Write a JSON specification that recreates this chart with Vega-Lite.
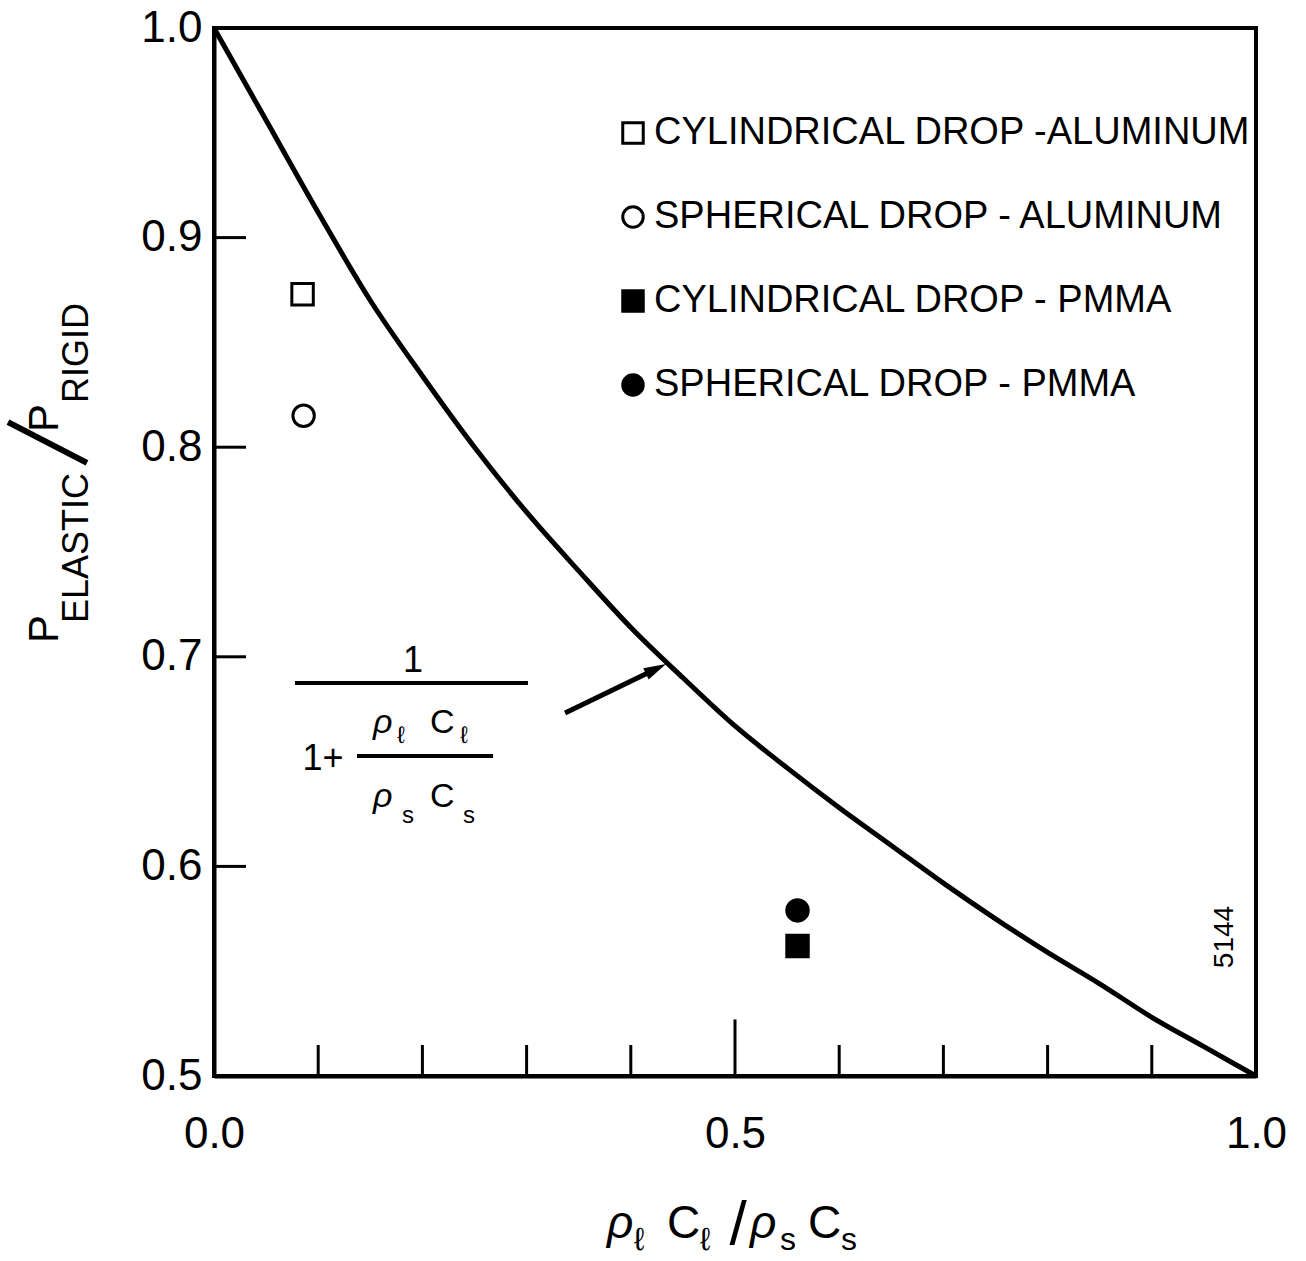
{
  "$schema": "https://vega.github.io/schema/vega-lite/v6.json",
  "width": 1042,
  "height": 1048,
  "autosize": {"type": "none"},
  "padding": {"left": 214, "top": 28, "right": 50, "bottom": 185},
  "background": "white",
  "config": {
    "view": {"stroke": "black", "strokeWidth": 4},
    "font": "Liberation Sans",
    "text": {"color": "black", "font": "Liberation Sans"}
  },
  "datasets": {
    "curve": [
      {"x": 0.0, "y": 1.0}, {"x": 0.05, "y": 0.956}, {"x": 0.1, "y": 0.912}, {"x": 0.15, "y": 0.870},
      {"x": 0.2, "y": 0.834}, {"x": 0.25, "y": 0.800}, {"x": 0.3, "y": 0.769}, {"x": 0.35, "y": 0.741},
      {"x": 0.4, "y": 0.714}, {"x": 0.45, "y": 0.690}, {"x": 0.5, "y": 0.667}, {"x": 0.55, "y": 0.647},
      {"x": 0.6, "y": 0.628}, {"x": 0.65, "y": 0.610}, {"x": 0.7, "y": 0.592}, {"x": 0.75, "y": 0.575},
      {"x": 0.8, "y": 0.559}, {"x": 0.85, "y": 0.544}, {"x": 0.9, "y": 0.528}, {"x": 0.95, "y": 0.514},
      {"x": 1.0, "y": 0.5}
    ],
    "points": [
      {"series": "CYLINDRICAL DROP -ALUMINUM", "x": 0.085, "y": 0.873},
      {"series": "SPHERICAL DROP - ALUMINUM", "x": 0.086, "y": 0.815},
      {"series": "CYLINDRICAL DROP - PMMA", "x": 0.56, "y": 0.562},
      {"series": "SPHERICAL DROP - PMMA", "x": 0.56, "y": 0.579}
    ],
    "xticks": [{"x": 0.1}, {"x": 0.2}, {"x": 0.3}, {"x": 0.4}, {"x": 0.6}, {"x": 0.7}, {"x": 0.8}, {"x": 0.9}],
    "yticks": [{"y": 0.6}, {"y": 0.7}, {"y": 0.8}, {"y": 0.9}],
    "one": [{}]
  },
  "layer": [
    {
      "data": {"name": "curve"},
      "mark": {"type": "line", "color": "black", "strokeWidth": 5, "interpolate": "monotone"},
      "encoding": {
        "x": {
          "field": "x", "type": "quantitative",
          "scale": {"domain": [0, 1], "nice": false, "zero": false},
          "axis": {"title": null, "values": [0, 0.5, 1], "format": ".1f", "ticks": false, "grid": false,
                   "domainColor": "black", "domainWidth": 4, "labelFontSize": 44, "labelColor": "black",
                   "labelPadding": 36, "labelFlush": false, "labelFont": "Liberation Sans"}
        },
        "y": {
          "field": "y", "type": "quantitative",
          "scale": {"domain": [0.5, 1], "nice": false, "zero": false},
          "axis": {"title": null, "values": [0.5, 0.6, 0.7, 0.8, 0.9, 1.0], "format": ".1f", "ticks": false, "grid": false,
                   "domainColor": "black", "domainWidth": 4, "labelFontSize": 44, "labelColor": "black",
                   "labelPadding": 12, "labelFlush": false, "labelFont": "Liberation Sans"}
        }
      }
    },
    {
      "data": {"name": "xticks"},
      "mark": {"type": "rule", "color": "black", "strokeWidth": 3},
      "encoding": {"x": {"field": "x", "type": "quantitative"}, "y": {"datum": 0.5}, "y2": {"datum": 0.5148}}
    },
    {
      "data": {"name": "one"},
      "mark": {"type": "rule", "color": "black", "strokeWidth": 3},
      "encoding": {"x": {"datum": 0.5}, "y": {"datum": 0.5}, "y2": {"datum": 0.527}}
    },
    {
      "data": {"name": "yticks"},
      "mark": {"type": "rule", "color": "black", "strokeWidth": 3},
      "encoding": {"y": {"field": "y", "type": "quantitative"}, "x": {"datum": 0}, "x2": {"datum": 0.0307}}
    },
    {
      "data": {"name": "points"},
      "mark": {"type": "point", "filled": true, "strokeWidth": 3, "size": 460, "opacity": 1},
      "encoding": {
        "x": {"field": "x", "type": "quantitative"},
        "y": {"field": "y", "type": "quantitative"},
        "shape": {
          "field": "series", "type": "nominal",
          "scale": {"domain": ["CYLINDRICAL DROP -ALUMINUM", "SPHERICAL DROP - ALUMINUM", "CYLINDRICAL DROP - PMMA", "SPHERICAL DROP - PMMA"],
                    "range": ["square", "circle", "square", "circle"]},
          "legend": {"title": null, "orient": "none", "legendX": 400, "legendY": 86, "padding": 0,
                     "labelFontSize": 38, "labelFont": "Liberation Sans", "labelColor": "black", "labelLimit": 1000,
                     "symbolSize": 420, "symbolStrokeWidth": 3,
                     "rowPadding": 46, "labelOffset": 2}
        },
        "fill": {
          "field": "series", "type": "nominal",
          "scale": {"domain": ["CYLINDRICAL DROP -ALUMINUM", "SPHERICAL DROP - ALUMINUM", "CYLINDRICAL DROP - PMMA", "SPHERICAL DROP - PMMA"],
                    "range": ["white", "white", "black", "black"]},
          "legend": {"title": null, "orient": "none", "legendX": 400, "legendY": 86, "padding": 0,
                     "labelFontSize": 38, "labelFont": "Liberation Sans", "labelColor": "black", "labelLimit": 1000,
                     "symbolSize": 420, "symbolStrokeWidth": 3,
                     "rowPadding": 46, "labelOffset": 2}
        },
        "stroke": {
          "field": "series", "type": "nominal",
          "scale": {"domain": ["CYLINDRICAL DROP -ALUMINUM", "SPHERICAL DROP - ALUMINUM", "CYLINDRICAL DROP - PMMA", "SPHERICAL DROP - PMMA"],
                    "range": ["black", "black", "black", "black"]},
          "legend": {"title": null, "orient": "none", "legendX": 400, "legendY": 86, "padding": 0,
                     "labelFontSize": 38, "labelFont": "Liberation Sans", "labelColor": "black", "labelLimit": 1000,
                     "symbolSize": 420, "symbolStrokeWidth": 3,
                     "rowPadding": 46, "labelOffset": 2}
        }
      }
    },
    {
      "data": {"name": "one"},
      "mark": {"type": "rule", "color": "black", "strokeWidth": 4},
      "encoding": {"x": {"datum": 0.0777}, "x2": {"datum": 0.3013}, "y": {"datum": 0.6875}}
    },
    {
      "data": {"name": "one"},
      "mark": {"type": "rule", "color": "black", "strokeWidth": 4},
      "encoding": {"x": {"datum": 0.1372}, "x2": {"datum": 0.2678}, "y": {"datum": 0.6527}}
    },
    {
      "data": {"name": "one"},
      "mark": {"type": "rule", "color": "black", "strokeWidth": 5},
      "encoding": {"x": {"datum": 0.3369}, "y": {"datum": 0.6732}, "x2": {"datum": 0.4242}, "y2": {"datum": 0.6942}}
    },
    {
      "data": {"name": "one"},
      "mark": {"type": "point", "shape": "M-1,-0.55L1,0L-1,0.55Z", "filled": true, "color": "black", "size": 500, "angle": 334, "opacity": 1},
      "encoding": {"x": {"datum": 0.4242}, "y": {"datum": 0.6942}}
    },
    {
      "data": {"name": "one"},
      "mark": {"type": "rule", "color": "black", "strokeWidth": 6, "clip": false},
      "encoding": {"x": {"datum": -0.1219}, "y": {"datum": 0.7925}, "x2": {"datum": -0.1977}, "y2": {"datum": 0.812}}
    },
    {
      "data": {"values": [{"x": -0.1497, "y": 0.7066, "t": "P"}, {"x": -0.1497, "y": 0.8073, "t": "P"}]},
      "mark": {"type": "text", "fontSize": 42, "angle": 270, "align": "left", "baseline": "alphabetic"},
      "encoding": {"x": {"field": "x", "type": "quantitative"}, "y": {"field": "y", "type": "quantitative"}, "text": {"field": "t"}}
    },
    {
      "data": {"values": [{"x": -0.1209, "y": 0.7161, "t": "ELASTIC"}, {"x": -0.1209, "y": 0.8211, "t": "RIGID"}]},
      "mark": {"type": "text", "fontSize": 36, "angle": 270, "align": "left", "baseline": "alphabetic"},
      "encoding": {"x": {"field": "x", "type": "quantitative"}, "y": {"field": "y", "type": "quantitative"}, "text": {"field": "t"}}
    },
    {
      "data": {"values": [{"x": 0.3772, "y": 0.4227, "t": "ρ"}, {"x": 0.5144, "y": 0.4227, "t": "ρ"}]},
      "mark": {"type": "text", "fontSize": 46, "fontStyle": "italic", "align": "left", "baseline": "alphabetic"},
      "encoding": {"x": {"field": "x", "type": "quantitative"}, "y": {"field": "y", "type": "quantitative"}, "text": {"field": "t"}}
    },
    {
      "data": {"values": [{"x": 0.4347, "y": 0.4227, "t": "C"}, {"x": 0.5701, "y": 0.4227, "t": "C"}]},
      "mark": {"type": "text", "fontSize": 46, "align": "left", "baseline": "alphabetic"},
      "encoding": {"x": {"field": "x", "type": "quantitative"}, "y": {"field": "y", "type": "quantitative"}, "text": {"field": "t"}}
    },
    {
      "data": {"values": [{"x": 0.4031, "y": 0.417, "t": "ℓ"}, {"x": 0.4664, "y": 0.417, "t": "ℓ"}, {"x": 0.5432, "y": 0.417, "t": "s"}, {"x": 0.6017, "y": 0.417, "t": "s"}]},
      "mark": {"type": "text", "fontSize": 32, "align": "left", "baseline": "alphabetic"},
      "encoding": {"x": {"field": "x", "type": "quantitative"}, "y": {"field": "y", "type": "quantitative"}, "text": {"field": "t"}}
    },
    {
      "data": {"values": [{"x": 0.5029, "y": 0.4199, "t": "/"}]},
      "mark": {"type": "text", "fontSize": 62, "align": "center", "baseline": "alphabetic"},
      "encoding": {"x": {"field": "x", "type": "quantitative"}, "y": {"field": "y", "type": "quantitative"}, "text": {"field": "t"}}
    },
    {
      "data": {"values": [{"x": 0.191, "y": 0.6927, "t": "1"}, {"x": 0.1046, "y": 0.646, "t": "1+"}]},
      "mark": {"type": "text", "fontSize": 36, "align": "center", "baseline": "alphabetic"},
      "encoding": {"x": {"field": "x", "type": "quantitative"}, "y": {"field": "y", "type": "quantitative"}, "text": {"field": "t"}}
    },
    {
      "data": {"values": [{"x": 0.1526, "y": 0.6636, "t": "ρ"}, {"x": 0.1526, "y": 0.6283, "t": "ρ"}]},
      "mark": {"type": "text", "fontSize": 34, "fontStyle": "italic", "align": "left", "baseline": "alphabetic"},
      "encoding": {"x": {"field": "x", "type": "quantitative"}, "y": {"field": "y", "type": "quantitative"}, "text": {"field": "t"}}
    },
    {
      "data": {"values": [{"x": 0.2073, "y": 0.6636, "t": "C"}, {"x": 0.2073, "y": 0.6283, "t": "C"}]},
      "mark": {"type": "text", "fontSize": 34, "align": "left", "baseline": "alphabetic"},
      "encoding": {"x": {"field": "x", "type": "quantitative"}, "y": {"field": "y", "type": "quantitative"}, "text": {"field": "t"}}
    },
    {
      "data": {"values": [{"x": 0.1756, "y": 0.6589, "t": "ℓ"}, {"x": 0.2361, "y": 0.6589, "t": "ℓ"}, {"x": 0.1804, "y": 0.6207, "t": "s"}, {"x": 0.239, "y": 0.6207, "t": "s"}]},
      "mark": {"type": "text", "fontSize": 24, "align": "left", "baseline": "alphabetic"},
      "encoding": {"x": {"field": "x", "type": "quantitative"}, "y": {"field": "y", "type": "quantitative"}, "text": {"field": "t"}}
    },
    {
      "data": {"values": [{"x": 0.978, "y": 0.5663, "t": "5144"}]},
      "mark": {"type": "text", "fontSize": 28, "angle": 270, "align": "center", "baseline": "alphabetic"},
      "encoding": {"x": {"field": "x", "type": "quantitative"}, "y": {"field": "y", "type": "quantitative"}, "text": {"field": "t"}}
    }
  ]
}
